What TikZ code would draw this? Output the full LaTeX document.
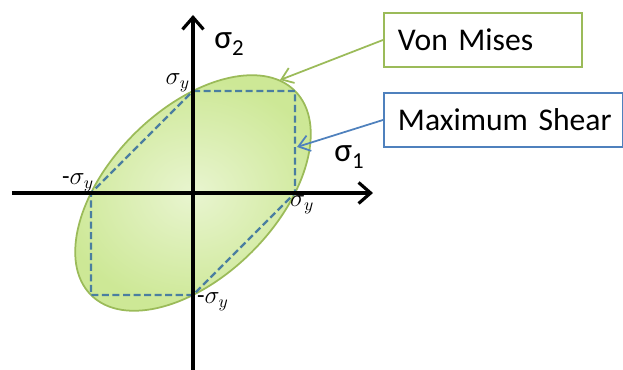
\documentclass[tikz,border=0pt]{standalone}
\usepackage{fontspec}
\setmainfont{Carlito}
\usetikzlibrary{arrows.meta, positioning}

\definecolor{vmgreen}{RGB}{155,187,89}
\definecolor{vmfill}{RGB}{205,232,150}
\definecolor{tsblue}{RGB}{79,129,189}
\definecolor{tsdash}{RGB}{74,126,160}

\newcommand{\sig}[1]{σ\raisebox{-0.45ex}{\fontsize{13}{13}\selectfont #1}}

\begin{document}
\begin{tikzpicture}[
  axis/.style={line width=1.8pt, -{Straight Barb[length=2.4mm, width=4.2mm, line width=1.8pt]}},
  call/.style={draw, line width=1.1pt, minimum height=1.08cm, inner xsep=0.28cm, anchor=west,
               font=\fontsize{18}{21}\selectfont},
  callarr/.style={line width=1pt, -{Straight Barb[length=2.2mm, width=3.2mm]}},
  ax/.style={font=\fontsize{19}{22}\selectfont},
  sy/.style={font=\fontsize{14}{16}\selectfont, inner sep=1pt}
]
\useasboundingbox (-3.86,-3.54) rectangle (8.6,3.86);

% von Mises ellipse
\shade[inner color=vmfill!45, outer color=vmfill, draw=vmgreen, line width=1pt, rotate=45]
  (0,0) ellipse ({sqrt(2)*2.04} and {sqrt(2/3)*2.04});

% maximum shear (Tresca) hexagon
\draw[tsdash, line width=1.3pt, dash pattern=on 4pt off 2pt]
  (0,2.04) -- (2.04,2.04) -- (2.04,0) -- (0,-2.04) -- (-2.04,-2.04) -- (-2.04,0) -- cycle;

% axes
\coordinate (o) at (0,0);
\coordinate (xl) at (-3.62,0);
\coordinate (xr) at (3.6,0);
\coordinate (yb) at (0,-3.54);
\coordinate (yt) at (0,3.56);
\draw[axis] (xl) -- (xr);
\draw[axis] (yb) -- (yt);
\node[ax] (s2) at (0.72,2.98) {\sig{2}};
\node[ax] (s1) at (3.12,0.72) {\sig{1}};

% yield points
\node[sy, anchor=south east] (sytop) at (-0.02,1.98) {$\sigma_y$};
\node[sy, anchor=south east] (syleft) at (-1.94,-0.02) {-$\sigma_y$};
\node[sy, anchor=north west] (syright) at (1.9,-0.02) {$\sigma_y$};
\node[sy, anchor=north west] (sybot) at (0.04,-1.96) {-$\sigma_y$};

% callouts
\node[call, draw=vmgreen, minimum width=3.96cm, text width=3.4cm] (vm) at (3.8,3.06) {Von~Mises};
\node[call, draw=tsblue, minimum width=4.78cm, text width=4.22cm] (ts) at (3.8,1.46) {Maximum~Shear};

\coordinate (vmpt) at (1.74,2.26);
\coordinate (tspt) at (2.08,0.92);
\draw[callarr, vmgreen] (vm.west) -- (vmpt);
\draw[callarr, tsblue] (ts.west) -- (tspt);
\end{tikzpicture}
\end{document}
